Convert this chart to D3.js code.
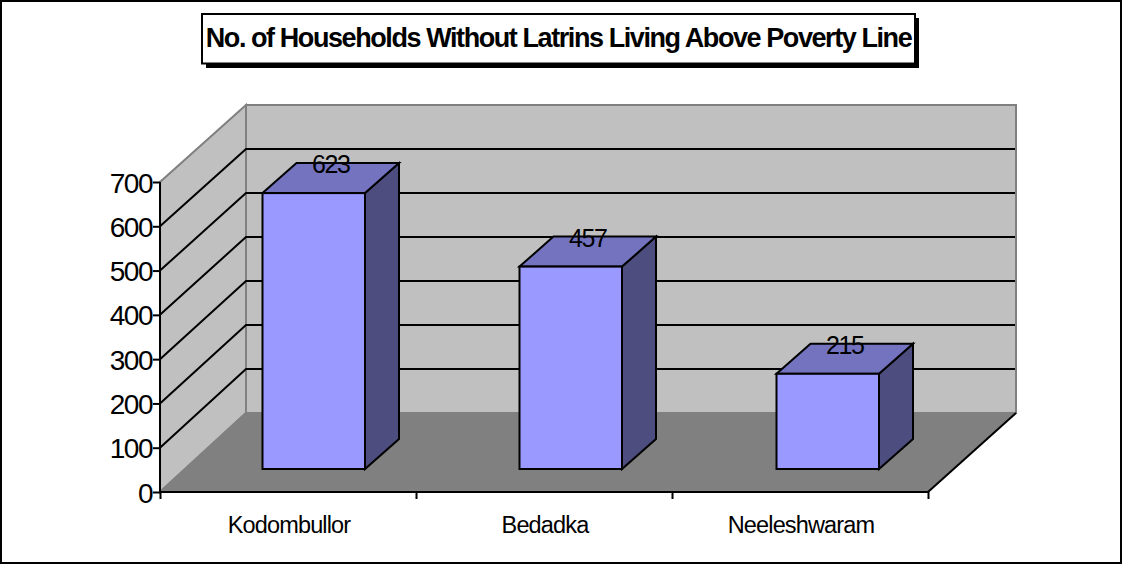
<!DOCTYPE html>
<html><head><meta charset="utf-8">
<script src="https://cdn.jsdelivr.net/npm/d3@7"></script>
<style>html,body{margin:0;padding:0;background:#fff}svg{display:block}text{font-family:"Liberation Sans",Arial,sans-serif;fill:#000}</style>
</head><body><svg id="c" width="1123" height="565"></svg>
<script>
const categories=["Kodombullor","Bedadka","Neeleshwaram"];
const values=[623,457,215];
const yTicks=[0,100,200,300,400,500,600,700];
const title="No. of Households Without Latrins Living Above Poverty Line";

const svg=d3.select("#c");
const W=1123,H=565;
svg.append("rect").attr("x",1).attr("y",1).attr("width",W-3).attr("height",H-3).attr("fill","#fff").attr("stroke","#000").attr("stroke-width",2);

const x=d3.scaleBand().domain(categories).range([160,928]);
const xBar=d3.scaleBand().domain(categories).range([186,957]);
const y=d3.scaleLinear().domain([0,700]).range([492,182]);
const yBack=d3.scaleLinear().domain([0,700]).range([413,105]);
const bdx=34,bdy=-30;
const inY=-23;
const barW=102.5;
const line=d3.line();
const [x0,x1]=x.range(), y0=y(0), yT=y(700);
const bx0=246,bx1=1016,fy=yBack(0),ty=yBack(700);

svg.append("path").attr("d",line([[x0,y0],[x0,yT],[bx0,ty],[bx0,fy]])+"Z").attr("fill","#c0c0c0").attr("stroke","#808080").attr("stroke-width",2);
svg.append("path").attr("d",line([[bx0,ty],[bx1,ty],[bx1,fy],[bx0,fy]])+"Z").attr("fill","#c0c0c0").attr("stroke","#808080").attr("stroke-width",2);
svg.append("path").attr("d",line([[x0,y0],[bx0,fy],[bx1,fy],[x1,y0]])+"Z").attr("fill","#808080");

svg.append("g").selectAll("path").data(yTicks.filter(t=>t>0&&t<700)).join("path")
 .attr("d",t=>line([[x0,y(t)],[bx0,yBack(t)],[bx1-1,yBack(t)]])).attr("fill","none").attr("stroke","#000").attr("stroke-width",2);
svg.append("path").attr("d",line([[x1,y0],[bx1,fy]])).attr("stroke","#000").attr("stroke-width",2);
svg.append("path").attr("d",line([[x0,y0],[bx0,fy]])).attr("stroke","#808080").attr("stroke-width",2);

const g=svg.append("g").selectAll("g").data(values).join("g");
const left=(d,i)=>xBar(categories[i])+xBar.bandwidth()/2-barW/2-0.75;
const base=y0+inY;
const top_=d=>base-(y0-y(d));
const st=s=>s.attr("stroke","#000").attr("stroke-width",2).attr("stroke-linejoin","miter");
st(g.append("path").attr("fill","#4d4d80").attr("d",(d,i)=>{const l=left(d,i)+barW;return line([[l,base],[l,top_(d)],[l+bdx,top_(d)+bdy],[l+bdx,base+bdy]])+"Z";}));
st(g.append("path").attr("fill","#7373bf").attr("d",(d,i)=>{const l=left(d,i);return line([[l,top_(d)],[l+bdx,top_(d)+bdy],[l+barW+bdx,top_(d)+bdy],[l+barW,top_(d)]])+"Z";}));
st(g.append("rect").attr("fill","#9999ff").attr("x",(d,i)=>left(d,i)).attr("y",d=>top_(d)).attr("width",barW).attr("height",d=>base-top_(d)));
g.append("text").attr("x",(d,i)=>left(d,i)+barW/2+17).attr("y",d=>top_(d)-20).attr("text-anchor","middle")
 .attr("font-size",25).attr("letter-spacing",-1.4).text(d=>d);

const yAxis=d3.axisLeft(y).tickValues(yTicks).tickSize(7).tickPadding(0).tickFormat(d3.format("d"));
const ya=svg.append("g").attr("transform",`translate(${x0},0)`).call(yAxis);
ya.selectAll("path,line").attr("stroke","#000").attr("stroke-width",2);
ya.select(".domain").attr("d",`M0,${yT}V${y0}`);
ya.selectAll("text").attr("font-size",28).attr("letter-spacing",-1.5).attr("font-family",'"Liberation Sans"').attr("x",-8).attr("dy","0.36em");

const xAxis=d3.axisBottom(d3.scalePoint().domain(d3.range(4)).range([x0,x1])).tickSize(7).tickFormat("");
const xa=svg.append("g").attr("transform",`translate(0,${y0})`).call(xAxis);
xa.selectAll("path,line").attr("stroke","#000").attr("stroke-width",2);
xa.select(".domain").attr("d",`M${x0},0H${x1}`);
svg.append("g").selectAll("text").data(categories).join("text")
 .attr("x",c=>x(c)+x.bandwidth()/2+1).attr("y",y0+41).attr("text-anchor","middle").attr("font-size",23.5).attr("letter-spacing",-0.85).text(c=>c);

svg.append("rect").attr("x",206).attr("y",18).attr("width",713).attr("height",50).attr("fill","#000");
svg.append("rect").attr("x",202).attr("y",14).attr("width",713).attr("height",49.5).attr("fill","#fff").attr("stroke","#000").attr("stroke-width",2);
svg.append("text").attr("x",558.5).attr("y",47).attr("text-anchor","middle").attr("font-size",27).attr("font-weight","bold").attr("letter-spacing",-1.42).text(title);
</script></body></html>
